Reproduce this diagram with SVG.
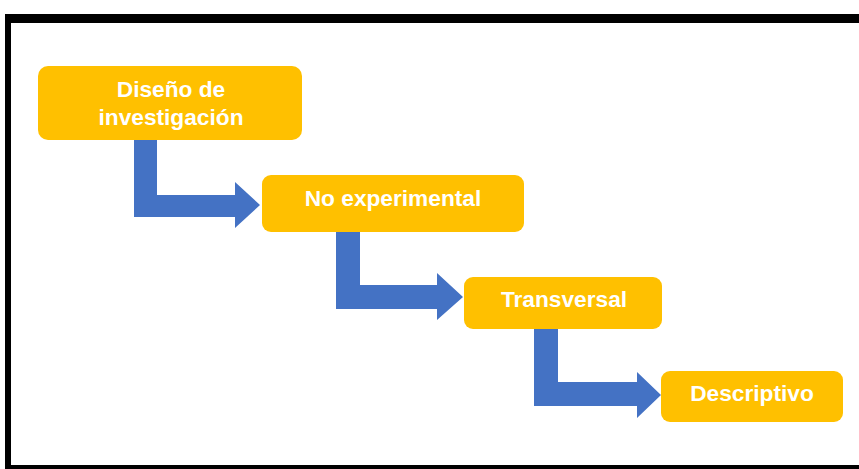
<svg xmlns="http://www.w3.org/2000/svg" width="859" height="469" viewBox="0 0 859 469">
<style>
.box{fill:#FFC000}
.arr{fill:#4472C4}
.t{font-family:"Liberation Sans",Arial,sans-serif;font-weight:bold;font-size:22.7px;fill:#fff;text-anchor:middle}
</style>
<rect width="859" height="469" fill="#fff"/>
<path d="M5,14 H870 V469 H5 Z M11,23 V465 H870 V23 Z" fill="#000" fill-rule="evenodd"/>
<g id="connectors">
<path class="arr" d="M134,140 H157 V195 H235 V182 L260,205 L235,228 V217 H134 Z"/>
<path class="arr" d="M336,232 H360 V285 H437 V273 L463,297 L437,320 V309 H336 Z"/>
<path class="arr" d="M534,329 H558 V382 H637 V372 L661,395 L637,418 V406 H534 Z"/>
</g>
<g id="n1">
<rect class="box" x="38" y="66" width="264" height="74" rx="10"/>
<text class="t" x="171" y="97">Diseño de</text>
<text class="t" x="171" y="125">investigación</text>
</g>
<g id="n2">
<rect class="box" x="262" y="175" width="262" height="57" rx="9"/>
<text class="t" x="393" y="206">No experimental</text>
</g>
<g id="n3">
<rect class="box" x="464" y="277" width="198" height="52" rx="9"/>
<text class="t" x="564" y="307">Transversal</text>
</g>
<g id="n4">
<rect class="box" x="661" y="371" width="182" height="51" rx="9"/>
<text class="t" x="752" y="401">Descriptivo</text>
</g>
</svg>
